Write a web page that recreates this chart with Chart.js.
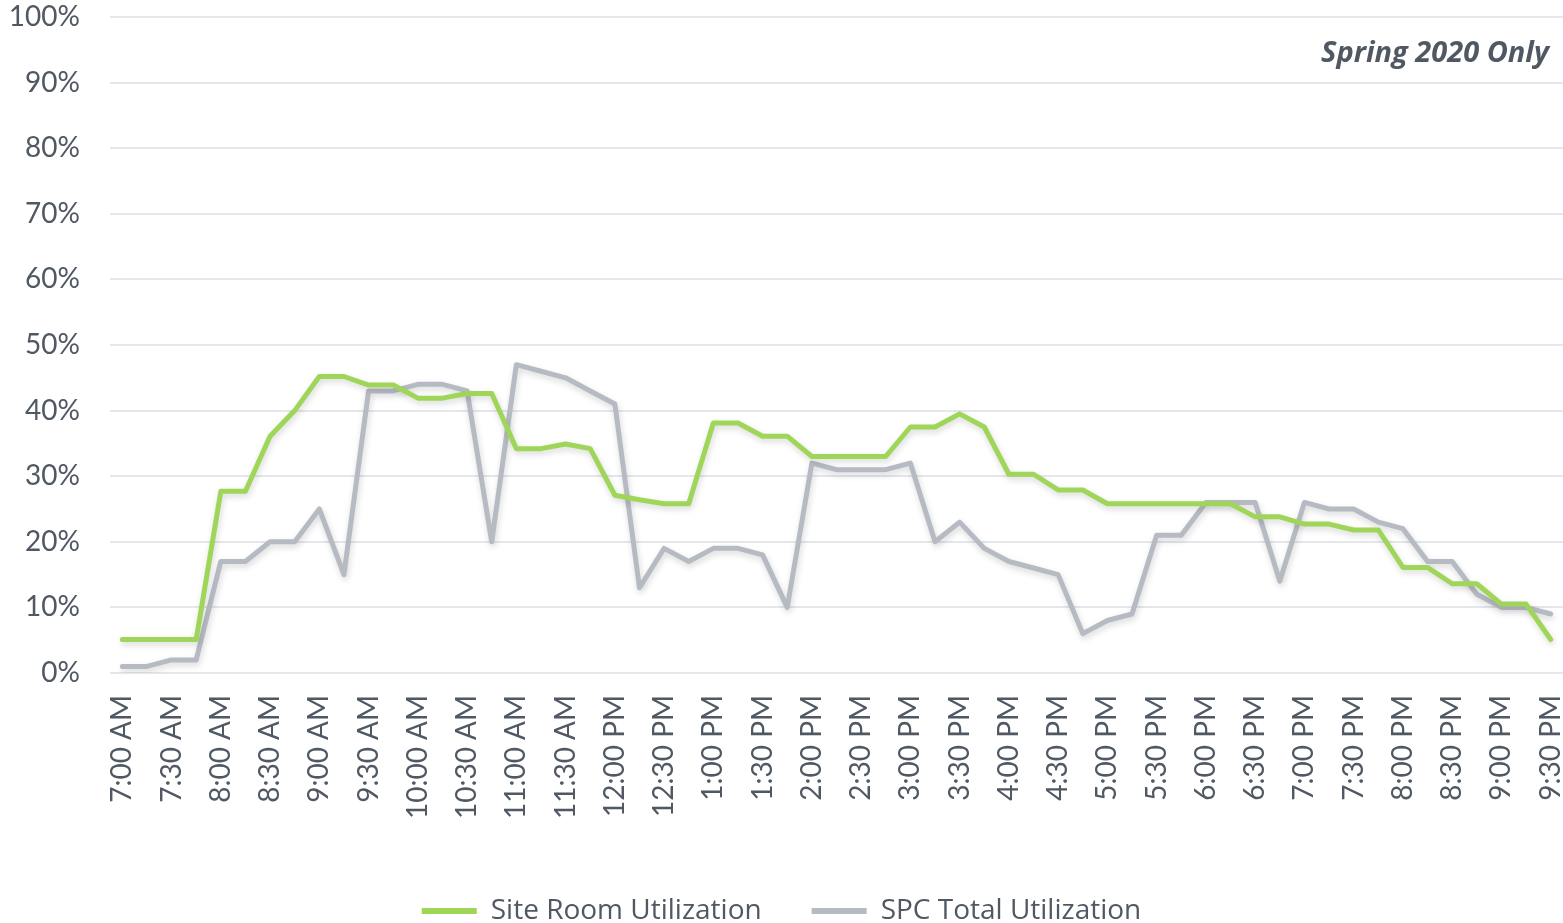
<!DOCTYPE html>
<html>
<head>
<meta charset="utf-8">
<script src="https://cdn.jsdelivr.net/npm/chart.js@4"></script>
<style>
  html, body { margin: 0; padding: 0; background: #ffffff; }
  #wrap { width: 1563px; height: 923px; position: relative; }
</style>
</head>
<body>
<div id="wrap"><canvas id="c" width="1563" height="923"></canvas></div>
<script>
const categories = [
  "7:00 AM","7:15 AM","7:30 AM","7:45 AM","8:00 AM","8:15 AM","8:30 AM","8:45 AM",
  "9:00 AM","9:15 AM","9:30 AM","9:45 AM","10:00 AM","10:15 AM","10:30 AM","10:45 AM",
  "11:00 AM","11:15 AM","11:30 AM","11:45 AM","12:00 PM","12:15 PM","12:30 PM","12:45 PM",
  "1:00 PM","1:15 PM","1:30 PM","1:45 PM","2:00 PM","2:15 PM","2:30 PM","2:45 PM",
  "3:00 PM","3:15 PM","3:30 PM","3:45 PM","4:00 PM","4:15 PM","4:30 PM","4:45 PM",
  "5:00 PM","5:15 PM","5:30 PM","5:45 PM","6:00 PM","6:15 PM","6:30 PM","6:45 PM",
  "7:00 PM","7:15 PM","7:30 PM","7:45 PM","8:00 PM","8:15 PM","8:30 PM","8:45 PM",
  "9:00 PM","9:15 PM","9:30 PM"
];
const siteRoomUtilization = [
  5.1,5.1,5.1,5.1,27.7,27.7,36.1,40,45.2,45.2,43.9,43.9,41.9,41.9,42.6,42.6,
  34.2,34.2,34.9,34.2,27.1,26.4,25.8,25.8,38.1,38.1,36.1,36.1,33,33,33,33,
  37.5,37.5,39.5,37.5,30.3,30.3,27.9,27.9,25.8,25.8,25.8,25.8,25.8,25.8,23.8,23.8,
  22.7,22.7,21.8,21.8,16.1,16.1,13.6,13.6,10.5,10.5,5.1
];
const spcTotalUtilization = [
  1,1,2,2,17,17,20,20,25,15,43,43,44,44,43,20,
  47,46,45,43,41,13,19,17,19,19,18,10,32,31,31,31,
  32,20,23,19,17,16,15,6,8,9,21,21,26,26,26,14,
  26,25,25,23,22,17,17,12,10,10,9
];
const seriesNames = ["Site Room Utilization", "SPC Total Utilization"];
const yTicks = [0,10,20,30,40,50,60,70,80,90,100];
const noteText = "Spring 2020 Only";

const GREEN = "#9fd65a";
const GRAY = "#b6bbc3";
const TEXT = "#4f5863";

const shadowPlugin = {
  id: "lineShadow",
  beforeDatasetDraw(chart, args) {
    const ctx = chart.ctx;
    ctx.save();
    ctx.shadowColor = "rgba(0,0,0,0.16)";
    ctx.shadowBlur = 6;
    ctx.shadowOffsetX = 1;
    ctx.shadowOffsetY = 3;
  },
  afterDatasetDraw(chart) {
    chart.ctx.restore();
  }
};

const notePlugin = {
  id: "note",
  afterDraw(chart) {
    const ctx = chart.ctx;
    ctx.save();
    ctx.font = "italic bold 29px 'Open Sans', sans-serif";
    ctx.fillStyle = TEXT;
    ctx.textAlign = "right";
    ctx.textBaseline = "alphabetic";
    ctx.fillText(noteText, 1549, 62);
    ctx.restore();
  }
};

new Chart(document.getElementById("c"), {
  type: "line",
  data: {
    labels: categories,
    datasets: [
      {
        label: seriesNames[0],
        data: siteRoomUtilization,
        borderColor: GREEN,
        backgroundColor: GREEN,
        borderWidth: 5,
        pointRadius: 0,
        tension: 0,
        borderCapStyle: "round",
        borderJoinStyle: "round"
      },
      {
        label: seriesNames[1],
        data: spcTotalUtilization,
        borderColor: GRAY,
        backgroundColor: GRAY,
        borderWidth: 5,
        pointRadius: 0,
        tension: 0,
        borderCapStyle: "round",
        borderJoinStyle: "round"
      }
    ]
  },
  options: {
    responsive: false,
    animation: false,
    layout: { padding: { top: 17, right: 0, bottom: -12, left: 0 } },
    plugins: {
      tooltip: { enabled: false },
      legend: {
        position: "bottom",
        labels: {
          boxWidth: 55,
          boxHeight: 6,
          padding: 50,
          color: TEXT,
          font: { family: "'Open Sans', sans-serif", size: 28 },
          generateLabels(chart) {
            return chart.data.datasets.map((ds, i) => ({
              text: ds.label,
              fillStyle: ds.borderColor,
              strokeStyle: ds.borderColor,
              lineWidth: 0,
              fontColor: TEXT,
              hidden: false,
              datasetIndex: i
            }));
          }
        }
      }
    },
    scales: {
      x: {
        type: "category",
        offset: true,
        grid: { display: false },
        border: { display: false },
        ticks: {
          autoSkip: false,
          maxRotation: 90,
          minRotation: 90,
          padding: 14,
          color: TEXT,
          font: { family: "Lato, sans-serif", size: 28 },
          callback(value, index) {
            return index % 2 === 0 ? categories[index] : "";
          }
        },
        afterFit(scale) {
          scale.height = 174;
          scale.paddingLeft = 0;
          scale.paddingRight = 0;
        }
      },
      y: {
        min: 0,
        max: 100,
        afterBuildTicks(scale) { scale.ticks = yTicks.map(v => ({ value: v })); },
        grid: { color: "#e4e7eb", lineWidth: 2, drawTicks: false },
        border: { display: false },
        ticks: {
          padding: 30,
          color: TEXT,
          font: { family: "Lato, sans-serif", size: 28 },
          callback(v) { return v + "%"; }
        },
        afterFit(scale) {
          scale.width = 110;
          scale.paddingTop = 0;
          scale.paddingBottom = 0;
        }
      }
    }
  },
  plugins: [shadowPlugin, notePlugin]
});
</script>
</body>
</html>
